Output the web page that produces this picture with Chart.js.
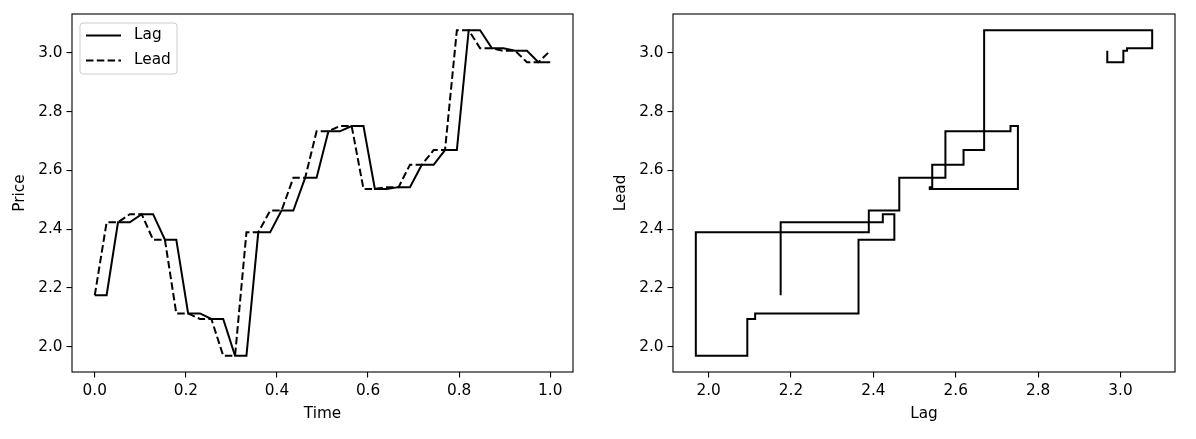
<!DOCTYPE html>
<html>
<head>
<meta charset="utf-8">
<script src="https://cdn.jsdelivr.net/npm/chart.js@4.4.0/dist/chart.umd.min.js"></script>
<style>
  body { margin: 0; background: #fff; }
  .panel { position: absolute; top: 0; width: 598px; height: 439px; }
  #leftBox { left: 0; }
  #rightBox { left: 598px; }
</style>
</head>
<body>
<div class="panel" id="leftBox"><canvas id="priceChart"></canvas></div>
<div class="panel" id="rightBox"><canvas id="leadLagChart"></canvas></div>
<script>
const time = [0, 0.026, 0.051, 0.077, 0.103, 0.128, 0.154, 0.179, 0.205, 0.231,
  0.256, 0.282, 0.308, 0.333, 0.359, 0.385, 0.410, 0.436, 0.462, 0.487,
  0.513, 0.538, 0.564, 0.590, 0.615, 0.641, 0.667, 0.692, 0.718, 0.744,
  0.769, 0.795, 0.821, 0.846, 0.872, 0.897, 0.923, 0.949, 0.974, 1.0];

const lag = [2.175, 2.175, 2.423, 2.423, 2.451, 2.451, 2.364, 2.364, 2.113, 2.113,
  2.094, 2.094, 1.969, 1.969, 2.389, 2.389, 2.463, 2.463, 2.575, 2.575,
  2.733, 2.733, 2.751, 2.751, 2.537, 2.537, 2.543, 2.543, 2.619, 2.619,
  2.669, 2.669, 3.077, 3.077, 3.016, 3.016, 3.007, 3.007, 2.968, 2.968];

const lead = [2.175, 2.423, 2.423, 2.451, 2.451, 2.364, 2.364, 2.113, 2.113, 2.094,
  2.094, 1.969, 1.969, 2.389, 2.389, 2.463, 2.463, 2.575, 2.575, 2.733,
  2.733, 2.751, 2.751, 2.537, 2.537, 2.543, 2.543, 2.619, 2.619, 2.669,
  2.669, 3.077, 3.077, 3.016, 3.016, 3.007, 3.007, 2.968, 2.968, 3.007];

const timeTicks = [0.0, 0.2, 0.4, 0.6, 0.8, 1.0];
const priceTicks = [2.0, 2.2, 2.4, 2.6, 2.8, 3.0];
const seriesNames = ['Lag', 'Lead'];

const priceMin = 1.9136, priceMax = 3.1324;

Chart.defaults.font.family = 'DejaVu Sans';
Chart.defaults.font.size = 15.3;
Chart.defaults.color = '#000';

// full black frame around the plot area, like matplotlib spines
const framePlugin = {
  id: 'frame',
  afterDraw(chart) {
    const a = chart.chartArea, ctx = chart.ctx;
    ctx.save();
    ctx.strokeStyle = '#000';
    ctx.lineWidth = 1.1;
    ctx.strokeRect(a.left, a.top, a.right - a.left, a.bottom - a.top);
    ctx.restore();
  }
};

const legendPlugin = {
  id: 'boxLegend',
  afterDraw(chart, args, opts) {
    if (!opts.show) return;
    const a = chart.chartArea, ctx = chart.ctx;
    const x = a.left + 8, y = a.top + 9, w = 97, h = 51, r = 3;
    ctx.save();
    ctx.beginPath();
    ctx.roundRect(x, y, w, h, r);
    ctx.fillStyle = 'rgba(255,255,255,0.8)';
    ctx.fill();
    ctx.strokeStyle = '#cccccc';
    ctx.lineWidth = 1;
    ctx.stroke();
    chart.data.datasets.forEach((ds, i) => {
      const ly = y + 12.5 + i * 25;
      ctx.beginPath();
      ctx.setLineDash(ds.borderDash || []);
      ctx.strokeStyle = '#000';
      ctx.lineWidth = 2;
      ctx.moveTo(x + 6, ly);
      ctx.lineTo(x + 41, ly);
      ctx.stroke();
      ctx.setLineDash([]);
      ctx.fillStyle = '#000';
      ctx.font = '15.3px "DejaVu Sans"';
      ctx.textBaseline = 'middle';
      ctx.fillText(ds.label, x + 54, ly);
    });
    ctx.restore();
  }
};

function axis(title, min, max, ticks, fitSize, isX, titlePad) 
{
  return {
    type: 'linear',
    min: min,
    max: max,
    afterBuildTicks: scale => { scale.ticks = ticks.map(v => ({ value: v })); },
    afterFit: scale => { if (isX) scale.height = fitSize; else scale.width = fitSize; },
    grid: { drawOnChartArea: false, drawTicks: true, tickLength: 5.5, tickColor: '#000', lineWidth: 1.1 },
    border: { display: false },
    ticks: { padding: 4, callback: v => v.toFixed(1), maxRotation: 0, autoSkip: false },
    title: { display: true, text: title, padding: titlePad }
  };
}

function baseOptions(xAxis, yAxis, padRight, showLegend) 
{
  return {
    responsive: true,
    maintainAspectRatio: false,
    animation: false,
    layout: { padding: { top: 14, right: padRight, left: 0, bottom: 0 } },
    plugins: { legend: { display: false }, tooltip: { enabled: false }, boxLegend: { show: showLegend } },
    scales: { x: xAxis, y: yAxis }
  };
}

new Chart(document.getElementById('priceChart'), 
{
  type: 'line',
  data: 
  {
    datasets: 
    [
      { label: seriesNames[0], data: time.map((t, i) => ({ x: t, y: lag[i] })), borderColor: '#000', borderWidth: 2, pointRadius: 0, tension: 0, fill: false },
      { label: seriesNames[1], data: time.map((t, i) => ({ x: t, y: lead[i] })), borderColor: '#000', borderWidth: 2, borderDash: [7.5, 3.3], pointRadius: 0, tension: 0, fill: false }
    ]
  },
  options: baseOptions(
    axis('Time', -0.05, 1.05, timeTicks, 67, true, { top: 2, bottom: 16 }),
    axis('Price', priceMin, priceMax, priceTicks, 72, false, { top: 11, bottom: 4 }),
    25, true),
  plugins: [framePlugin, legendPlugin]
});

new Chart(document.getElementById('leadLagChart'), 
{
  type: 'scatter',
  data: 
  {
    datasets: 
    [
      { label: 'Lead-Lag', data: lag.map((v, i) => ({ x: v, y: lead[i] })), showLine: true, borderColor: '#000', borderWidth: 2, pointRadius: 0, tension: 0, fill: false }
    ]
  },
  options: baseOptions(
    axis('Lag', priceMin, priceMax, priceTicks, 67, true, { top: 2, bottom: 16 }),
    axis('Lead', priceMin, priceMax, priceTicks, 75, false, { top: 14, bottom: 4 }),
    21, false),
  plugins: [framePlugin, legendPlugin]
});
</script>
</body>
</html>
